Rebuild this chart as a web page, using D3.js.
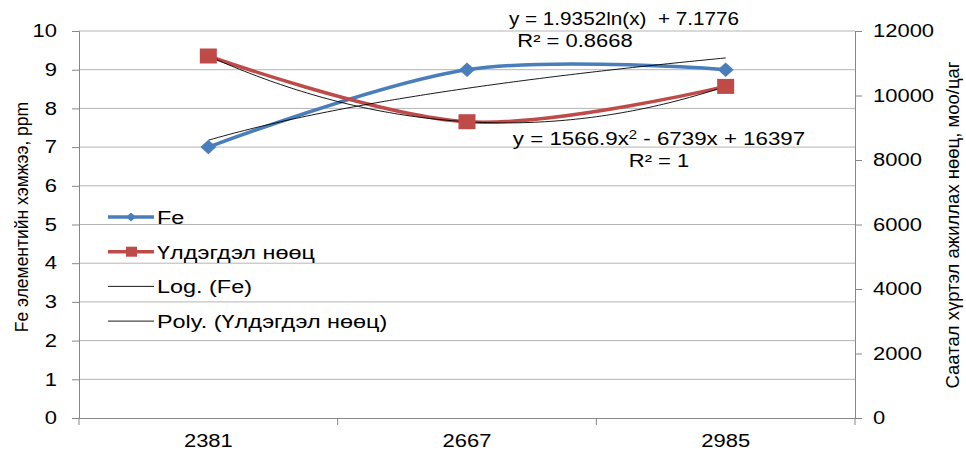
<!DOCTYPE html>
<html>
<head>
<meta charset="utf-8">
<script src="https://cdn.jsdelivr.net/npm/d3@7"></script>
<style>
  body { margin: 0; background: #fff; }
  text { font-family: "Liberation Sans", Arial, sans-serif; fill: #000; }
  .grid line { stroke: #b5b5b5; }
</style>
</head>
<body>
<div id="chart"></div>
<script>
const categories = ["2381", "2667", "2985"];
const feValues = [7, 9, 9];
const reserveValues = [11225, 9187, 10282];
const leftTicks = [0, 1, 2, 3, 4, 5, 6, 7, 8, 9, 10];
const rightTicks = [0, 2000, 4000, 6000, 8000, 10000, 12000];
// trendline coefficients as printed on the chart
const logCoef = [1.9352, 7.1776];          // a*ln(x) + b
const polyCoef = [1566.9, -6739, 16397];   // a*x^2 + b*x + c
const legendLabels = ["Fe", "Үлдэгдэл нөөц", "Log. (Fe)", "Poly. (Үлдэгдэл нөөц)"];

const width = 966, height = 450;
const margin = { top: 31, right: 111, bottom: 32, left: 79 };
const innerW = width - margin.left - margin.right;
const innerH = height - margin.top - margin.bottom;
const fs = 18;

const svg = d3.select("#chart").append("svg")
    .attr("width", width)
    .attr("height", height);

const g = svg.append("g").attr("transform", `translate(${margin.left},${margin.top})`);

const x = d3.scaleBand().domain(categories).range([0, innerW]);
const xc = d => x(d) + x.bandwidth() / 2;
// trend index (1..n) to pixel
const xi = d3.scaleLinear().domain([1, categories.length]).range([xc(categories[0]), xc(categories[categories.length - 1])]);
const yL = d3.scaleLinear().domain([0, 10]).range([innerH, 0]);
const yR = d3.scaleLinear().domain([0, 12000]).range([innerH, 0]);

// gridlines
g.append("g").attr("class", "grid")
    .selectAll("line").data(leftTicks.slice(1)).enter().append("line")
    .attr("x1", 0).attr("x2", innerW)
    .attr("y1", d => yL(d)).attr("y2", d => yL(d));

// axes
const axisColor = "#868686";
const leftAxis = g.append("g")
    .call(d3.axisLeft(yL).tickValues(leftTicks).tickSize(7).tickPadding(15));
const rightAxis = g.append("g").attr("transform", `translate(${innerW},0)`)
    .call(d3.axisRight(yR).tickValues(rightTicks).tickFormat(d3.format("d")).tickSize(7).tickPadding(11));
const bottomAxis = g.append("g").attr("transform", `translate(0,${innerH})`)
    .call(d3.axisBottom(x).tickSize(0).tickPadding(16));

[leftAxis, rightAxis, bottomAxis].forEach(a => {
  a.select(".domain").attr("stroke", axisColor);
  a.selectAll(".tick line").attr("stroke", axisColor);
  a.selectAll("text").attr("font-size", fs).attr("font-family", "Liberation Sans, Arial, sans-serif")
      .classed("wide", true);
});

// category boundary ticks on x axis
const bounds = d3.range(categories.length + 1).map(i => i * x.step());
bottomAxis.selectAll(".bound").data(bounds).enter().append("line")
    .attr("class", "bound")
    .attr("x1", d => d).attr("x2", d => d)
    .attr("y1", 0).attr("y2", 7)
    .attr("stroke", axisColor);

// axis titles
svg.append("text")
    .attr("transform", `translate(28,217) rotate(-90)`)
    .attr("text-anchor", "middle")
    .attr("font-size", 17.5)
    .text("Fe элементийн хэмжээ, ppm");
svg.append("text")
    .attr("transform", `translate(959,225) rotate(-90)`)
    .attr("text-anchor", "middle")
    .attr("font-size", 18.5)
    .text("Саатал хүртэл ажиллах нөөц, моо/цаг");

// trendlines
const trendSteps = d3.range(1, 3.0001, 0.02);
const logLine = d3.line().x(t => xi(t)).y(t => yL(logCoef[0] * Math.log(t) + logCoef[1]));
const polyLine = d3.line().x(t => xi(t)).y(t => yR(polyCoef[0] * t * t + polyCoef[1] * t + polyCoef[2]));

// series
const blue = "#4a7ebb", red = "#be4b48";
const feLine = d3.line().x((d, i) => xc(categories[i])).y(d => yL(d)).curve(d3.curveCardinal.tension(0));
const resLine = d3.line().x((d, i) => xc(categories[i])).y(d => yR(d)).curve(d3.curveCardinal.tension(0));

g.append("path").datum(feValues).attr("d", feLine)
    .attr("fill", "none").attr("stroke", blue).attr("stroke-width", 3.5);
g.append("path").datum(reserveValues).attr("d", resLine)
    .attr("fill", "none").attr("stroke", red).attr("stroke-width", 3.5);

g.append("path").datum(trendSteps).attr("d", logLine)
    .attr("fill", "none").attr("stroke", "#000").attr("stroke-width", 0.9);
g.append("path").datum(trendSteps).attr("d", polyLine)
    .attr("fill", "none").attr("stroke", "#000").attr("stroke-width", 0.9);

g.selectAll(".fe-pt").data(feValues).enter().append("path")
    .attr("class", "fe-pt")
    .attr("d", d3.symbol().type(d3.symbolSquare).size(105))
    .attr("transform", (d, i) => `translate(${xc(categories[i])},${yL(d)}) scale(1.1,1) rotate(45)`)
    .attr("fill", blue);
g.selectAll(".res-pt").data(reserveValues).enter().append("rect")
    .attr("class", "res-pt")
    .attr("x", (d, i) => xc(categories[i]) - 8.5)
    .attr("y", d => yR(d) - 7.5)
    .attr("width", 17).attr("height", 15)
    .attr("fill", red);

// trendline labels
svg.append("text").attr("x", 624).attr("y", 25).attr("text-anchor", "middle").attr("font-size", fs)
    .attr("class", "wide").attr("data-k", 1.15).style("white-space", "pre")
    .text(`y = ${logCoef[0]}ln(x)  + ${logCoef[1]}`);
svg.append("text").attr("x", 575).attr("y", 47).attr("text-anchor", "middle").attr("font-size", fs)
    .attr("class", "wide")
    .text("R² = 0.8668");
const polyLabel = svg.append("g").attr("transform", "translate(659,145) scale(1.24,1)")
    .append("text").attr("text-anchor", "middle").attr("font-size", fs).style("white-space", "pre");
polyLabel.append("tspan").text(`y = ${polyCoef[0]}x`);
polyLabel.append("tspan").attr("dy", -6).attr("font-size", 12).text("2");
polyLabel.append("tspan").attr("dy", 6).text(` - ${-polyCoef[1]}x + ${polyCoef[2]}`);
svg.append("text").attr("x", 659).attr("y", 167).attr("text-anchor", "middle").attr("font-size", fs)
    .attr("class", "wide")
    .text("R² = 1");

// legend
const legend = svg.append("g").attr("transform", "translate(108,217)");
const rowH = 34.7;
legendLabels.forEach((lab, i) => {
  const row = legend.append("g").attr("transform", `translate(0,${i * rowH})`);
  if (i === 0) {
    row.append("line").attr("x1", 0).attr("x2", 46).attr("y1", 0).attr("y2", 0).attr("stroke", blue).attr("stroke-width", 3.5);
    row.append("path").attr("d", d3.symbol().type(d3.symbolSquare).size(40)).attr("transform", "translate(23,0) scale(1.1,1) rotate(45)").attr("fill", blue);
  } else if (i === 1) {
    row.append("line").attr("x1", 0).attr("x2", 46).attr("y1", 0).attr("y2", 0).attr("stroke", red).attr("stroke-width", 3.5);
    row.append("rect").attr("x", 18).attr("y", -5).attr("width", 11).attr("height", 10).attr("fill", red);
  } else {
    row.append("line").attr("x1", 0).attr("x2", 46).attr("y1", 0).attr("y2", 0).attr("stroke", "#000").attr("stroke-width", 0.9);
  }
  row.append("text").attr("x", 49).attr("y", 7).attr("font-size", fs)
      .attr("class", "wide").attr("data-k", 1.3).text(lab);
});

// the reference is stretched horizontally; widen unrotated text to match
svg.selectAll("text.wide").each(function () {
  const k = +(this.getAttribute("data-k") || 1.22);
  const w = this.getComputedTextLength();
  d3.select(this).attr("textLength", w * k).attr("lengthAdjust", "spacingAndGlyphs");
});
</script>
</body>
</html>
